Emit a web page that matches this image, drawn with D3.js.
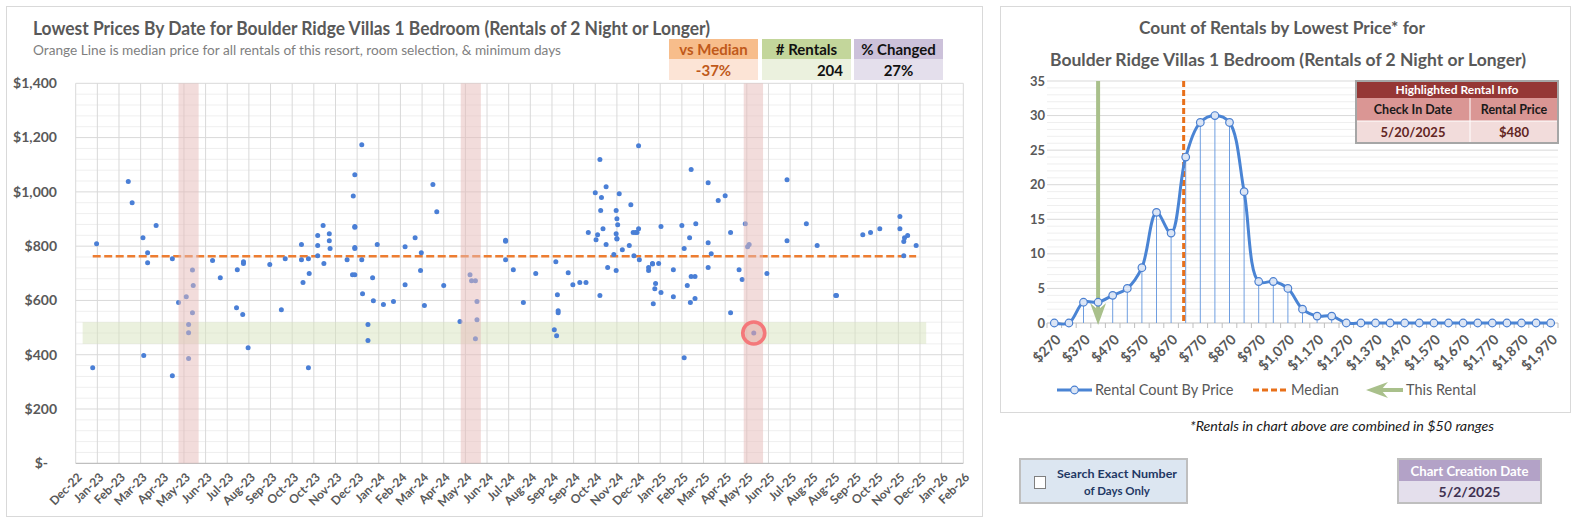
<!DOCTYPE html>
<html>
<head>
<meta charset="utf-8">
<script src="https://cdn.jsdelivr.net/npm/d3@7"></script>
<style>
  body { margin: 0; background: #fff; }
  svg text { font-family: Lato, "Open Sans", sans-serif; }
</style>
</head>
<body>
<svg id="chart"></svg>
<script>
// ---- left chart data ----
var rentalDates = [
  "2023-01-16","2023-01-21","2023-03-03","2023-03-08","2023-03-22","2023-03-28","2023-03-28","2023-03-23",
  "2023-04-08","2023-04-29","2023-04-29","2023-05-07","2023-05-17","2023-05-25","2023-05-26","2023-05-25",
  "2023-05-20","2023-05-20","2023-05-20","2023-06-20","2023-06-30","2023-07-21","2023-07-22","2023-07-29",
  "2023-07-30","2023-07-30","2023-08-05","2023-09-02","2023-09-17","2023-09-22","2023-10-13","2023-10-13",
  "2023-10-15","2023-10-22","2023-10-22","2023-10-23","2023-11-03","2023-11-03","2023-11-03","2023-11-10",
  "2023-11-11","2023-11-18","2023-11-18","2023-11-19","2023-12-11","2023-12-18","2023-12-21","2023-12-19",
  "2023-12-21","2023-12-21","2023-12-21","2023-12-21","2023-12-21","2023-12-30","2023-12-30","2023-12-31",
  "2024-01-07","2024-01-07",
  "2024-01-13","2024-01-14","2024-01-19","2024-01-27","2024-02-09","2024-02-24","2024-02-24","2024-03-08",
  "2024-03-16","2024-03-15","2024-03-20","2024-03-31","2024-04-05","2024-04-14","2024-05-05","2024-05-18",
  "2024-05-20","2024-05-25","2024-05-27","2024-05-27","2024-05-25","2024-07-03","2024-07-03","2024-07-03",
  "2024-07-13","2024-07-26","2024-08-11","2024-09-04","2024-09-07","2024-09-06","2024-09-08","2024-09-09",
  "2024-09-09","2024-09-22","2024-09-28","2024-10-07","2024-10-15","2024-10-18","2024-10-27","2024-10-28",
  "2024-10-30","2024-11-02","2024-11-02","2024-11-03","2024-11-04","2024-11-06","2024-11-10","2024-11-10",
  "2024-11-12","2024-11-20","2024-11-23","2024-11-24","2024-11-25","2024-11-23","2024-11-24","2024-11-24",
  "2024-11-23","2024-11-27","2024-12-01","2024-12-10","2024-12-12","2024-12-15","2024-12-18","2024-12-20",
  "2024-12-16","2024-12-22","2024-12-22","2024-12-23","2025-01-04","2025-01-04","2025-01-09","2025-01-09",
  "2025-01-17","2025-01-13","2025-01-12","2025-01-10","2025-01-20","2025-01-20",
  "2025-02-05","2025-02-05","2025-02-16","2025-02-19","2025-02-19","2025-02-23","2025-02-26","2025-02-28",
  "2025-02-28","2025-03-05","2025-02-27","2025-03-05","2025-03-06","2025-03-22","2025-03-22","2025-03-22",
  "2025-03-26","2025-04-04","2025-04-13","2025-04-20","2025-04-20","2025-05-01","2025-05-05","2025-05-09",
  "2025-05-12","2025-05-14","2025-05-20","2025-06-06","2025-07-02","2025-07-02","2025-07-27","2025-08-10",
  "2025-09-03","2025-09-04","2025-10-08","2025-10-18","2025-10-30","2025-11-25","2025-11-25","2025-11-30",
  "2025-12-01","2025-12-05","2025-11-30","2025-12-16"
];
var rentalPrices = [
  352,809,1038,960,831,776,739,397,
  876,754,323,592,614,712,655,555,
  511,481,386,747,684,573,713,548,
  743,736,426,732,566,754,806,750,
  666,754,352,699,839,802,765,876,
  736,846,820,791,750,695,695,985,
  1063,872,870,795,791,1174,750,625,
  511,452,
  684,599,806,585,596,798,658,831,
  776,710,581,1027,927,655,522,695,
  673,673,596,529,459,822,818,750,
  713,592,699,492,470,743,621,562,
  555,702,658,666,666,850,997,824,
  842,1119,618,931,979,864,1019,806,
  721,769,931,901,879,846,828,826,
  710,993,787,802,953,850,850,850,
  765,864,1170,750,721,710,736,734,
  736,662,643,588,629,872,
  713,614,876,791,389,655,831,1082,
  688,688,592,607,883,1034,813,721,
  772,968,986,850,555,713,677,883,
  798,806,480,699,1045,820,883,802,
  618,618,842,850,864,909,864,817,
  831,839,765,802
];
var medianPrice = 763;
var axisStart = "2022-12-25", axisEnd = "2026-02-15", tickStepDays = 28;
var tickLabels = ["Dec-22","Jan-23","Feb-23","Mar-23","Apr-23","May-23","Jun-23","Jul-23","Aug-23","Sep-23",
  "Oct-23","Oct-23","Nov-23","Dec-23","Jan-24","Feb-24","Mar-24","Apr-24","May-24","Jun-24","Jul-24",
  "Aug-24","Sep-24","Sep-24","Oct-24","Nov-24","Dec-24","Jan-25","Feb-25","Mar-25","Apr-25","May-25",
  "Jun-25","Jul-25","Aug-25","Aug-25","Sep-25","Oct-25","Nov-25","Dec-25","Jan-26","Feb-26"];
var priceTicks = [0, 200, 400, 600, 800, 1000, 1200, 1400];
var seasonStarts = ["2023-05-07", "2024-05-06", "2025-05-07"];
var seasonEnds = ["2023-06-02", "2024-06-01", "2025-06-01"];
var bandFrom = "2023-01-03", bandTo = "2025-12-29", bandLow = 440, bandHigh = 520;
var highlightDate = "2025-05-20", highlightPrice = 480;
var statHeaders = ["vs Median", "# Rentals", "% Changed"];
var statValues = ["-37%", "204", "27%"];

// ---- right chart data ----
var priceBins = [270,320,370,420,470,520,570,620,670,720,770,820,870,920,970,1020,1070,1120,1170,
  1220,1270,1320,1370,1420,1470,1520,1570,1620,1670,1720,1770,1820,1870,1920,1970];
var binCounts = [0,0,3,3,4,5,8,16,13,24,29,30,29,19,6,6,5,2,1,1,0,0,0,0,0,0,0,0,0,0,0,0,0,0,0];
var binLabels = ["$270","$370","$470","$570","$670","$770","$870","$970","$1,070","$1,170","$1,270",
  "$1,370","$1,470","$1,570","$1,670","$1,770","$1,870","$1,970"];
var countTicks = [0, 5, 10, 15, 20, 25, 30, 35];
var histMedian = 713, histRental = 420;
var tableTitle = "Highlighted Rental Info";
var tableCols = ["Check In Date", "Rental Price"];
var tableVals = ["5/20/2025", "$480"];
var creationDate = "5/2/2025";

var parseDate = d3.timeParse("%Y-%m-%d");
var svg = d3.select("#chart").attr("width", 1579).attr("height", 524);
svg.append("rect").attr("width", 1579).attr("height", 524).attr("fill", "#fff");

// ================= LEFT CHART =================
svg.append("rect").attr("x", 6.5).attr("y", 6.5).attr("width", 976).attr("height", 510)
  .attr("fill", "none").attr("stroke", "#d9d9d9");

var x = d3.scaleTime().domain([parseDate(axisStart), parseDate(axisEnd)]).range([75.7, 963.3]);
var y = d3.scaleLinear().domain([0, 1400]).range([463.3, 83.3]);
var tickDates = tickLabels.map(function(d, i) { return d3.timeDay.offset(parseDate(axisStart), i * tickStepDays); });

var gL = svg.append("g");
// minor horizontal grid
gL.selectAll(".minor").data(d3.range(0, 1401, 40).filter(function(v) { return v % 200 != 0; }))
  .join("line").attr("x1", x.range()[0]).attr("x2", x.range()[1])
  .attr("y1", function(d) { return y(d); }).attr("y2", function(d) { return y(d); })
  .attr("stroke", "#efefef");
gL.selectAll(".major").data(priceTicks.slice(1))
  .join("line").attr("x1", x.range()[0]).attr("x2", x.range()[1])
  .attr("y1", function(d) { return y(d); }).attr("y2", function(d) { return y(d); })
  .attr("stroke", "#d9d9d9");
gL.selectAll(".vgrid").data(tickDates)
  .join("line").attr("x1", function(d) { return x(d); }).attr("x2", function(d) { return x(d); })
  .attr("y1", y(1400)).attr("y2", y(0)).attr("stroke", "#d9d9d9");
gL.append("line").attr("x1", x.range()[0]).attr("x2", x.range()[1]).attr("y1", y(0)).attr("y2", y(0))
  .attr("stroke", "#bfbfbf").attr("stroke-width", 1.2);

// green price band
gL.append("rect").attr("x", x(parseDate(bandFrom))).attr("y", y(bandHigh))
  .attr("width", x(parseDate(bandTo)) - x(parseDate(bandFrom))).attr("height", y(bandLow) - y(bandHigh))
  .attr("fill", "#d7e4bd").attr("opacity", 0.5);

// median line
var dates = rentalDates.map(parseDate);
gL.append("line").attr("x1", x(d3.min(dates))).attr("x2", x(d3.max(dates)))
  .attr("y1", y(medianPrice)).attr("y2", y(medianPrice))
  .attr("stroke", "#ed7d31").attr("stroke-width", 2.6).attr("stroke-dasharray", "8,3.5");

// points
gL.selectAll(".pt").data(rentalPrices).join("circle")
  .attr("cx", function(d, i) { return x(dates[i]); }).attr("cy", function(d) { return y(d); })
  .attr("r", 2.5).attr("fill", "#4a7fd6");

// season bands
gL.selectAll(".season").data(seasonStarts).join("rect")
  .attr("x", function(d) { return x(parseDate(d)); }).attr("y", y(1400))
  .attr("width", function(d, i) { return x(parseDate(seasonEnds[i])) - x(parseDate(d)); })
  .attr("height", y(0) - y(1400)).attr("fill", "#e6b9b8").attr("opacity", 0.5);

// highlighted rental
gL.append("circle").attr("cx", x(parseDate(highlightDate))).attr("cy", y(highlightPrice)).attr("r", 11)
  .attr("fill", "#f08080").attr("fill-opacity", 0.18).attr("stroke", "#f4787a").attr("stroke-width", 3.6);

// y labels
gL.selectAll(".ylab").data(priceTicks).join("text")
  .attr("x", function(d) { return d == 0 ? 48 : 57; }).attr("y", function(d) { return y(d); }).attr("dy", "0.35em")
  .attr("text-anchor", "end").attr("font-size", 14).attr("font-weight", "bold").attr("fill", "#595959")
  .text(function(d) { return d == 0 ? "$-" : "$" + d3.format(",")(d); });

// x labels
gL.selectAll(".xlab").data(tickLabels).join("text")
  .attr("transform", function(d, i) { return "translate(" + (x(tickDates[i]) + 4) + ",475) rotate(-45)"; })
  .attr("text-anchor", "end").attr("dy", "0.35em")
  .attr("font-size", 12).attr("font-weight", "bold").attr("fill", "#595959")
  .text(function(d) { return d; });

// titles
svg.append("text").attr("x", 33).attr("y", 35).attr("font-size", 18).attr("font-weight", "bold")
  .attr("fill", "#595959").attr("textLength", 677).attr("lengthAdjust", "spacingAndGlyphs")
  .text("Lowest Prices By Date for Boulder Ridge Villas 1 Bedroom (Rentals of 2 Night or Longer)");
svg.append("text").attr("x", 33).attr("y", 55).attr("font-size", 13.5)
  .attr("fill", "#7f7f7f").attr("textLength", 528).attr("lengthAdjust", "spacingAndGlyphs")
  .text("Orange Line is median price for all rentals of this resort, room selection, & minimum days");

// stat boxes
var statX = [669, 762, 854], statW = 89;
var statHeadFill = ["#f7bd8b", "#c3d69b", "#ccc1da"];
var statValFill = ["#fce4d6", "#ebf1de", "#e4dfec"];
var statColor = ["#c0591a", "#111", "#111"];
var stats = svg.append("g").selectAll("g").data(statHeaders).join("g");
stats.append("rect").attr("x", function(d, i) { return statX[i]; }).attr("y", 39).attr("width", statW).attr("height", 20)
  .attr("fill", function(d, i) { return statHeadFill[i]; });
stats.append("rect").attr("x", function(d, i) { return statX[i]; }).attr("y", 59).attr("width", statW).attr("height", 21)
  .attr("fill", function(d, i) { return statValFill[i]; });
stats.append("text").attr("x", function(d, i) { return statX[i] + statW / 2; }).attr("y", 55)
  .attr("text-anchor", "middle").attr("font-size", 15).attr("font-weight", "bold")
  .attr("fill", function(d, i) { return statColor[i]; }).text(function(d) { return d; });
stats.append("text")
  .attr("x", function(d, i) { return i == 1 ? statX[i] + statW - 8 : statX[i] + statW / 2; }).attr("y", 76)
  .attr("text-anchor", function(d, i) { return i == 1 ? "end" : "middle"; })
  .attr("font-size", 15).attr("font-weight", "bold")
  .attr("fill", function(d, i) { return statColor[i]; }).text(function(d, i) { return statValues[i]; });

// ================= RIGHT CHART =================
svg.append("rect").attr("x", 1000.5).attr("y", 6.5).attr("width", 570).attr("height", 406)
  .attr("fill", "none").attr("stroke", "#d9d9d9");

var xr = d3.scaleLinear().domain([270, 1970]).range([1054.3, 1550.7]);
var yr = d3.scaleLinear().domain([0, 35]).range([323, 81]);
var half = (xr(320) - xr(270)) / 2;
var gR = svg.append("g");

gR.selectAll(".rminor").data(d3.range(0, 36).filter(function(v) { return v % 5 != 0; }))
  .join("line").attr("x1", xr(270) - half).attr("x2", xr(1970) + half)
  .attr("y1", function(d) { return yr(d); }).attr("y2", function(d) { return yr(d); })
  .attr("stroke", "#efefef");
gR.selectAll(".rmajor").data(countTicks.slice(1))
  .join("line").attr("x1", xr(270) - half).attr("x2", xr(1970) + half)
  .attr("y1", function(d) { return yr(d); }).attr("y2", function(d) { return yr(d); })
  .attr("stroke", "#d9d9d9");
gR.append("line").attr("x1", xr(270) - half).attr("x2", xr(1970) + half).attr("y1", yr(0)).attr("y2", yr(0))
  .attr("stroke", "#bfbfbf");
gR.selectAll(".rtick").data(priceBins.concat([1970 + 50])).join("line")
  .attr("x1", function(d) { return xr(d) - half; }).attr("x2", function(d) { return xr(d) - half; })
  .attr("y1", yr(0)).attr("y2", yr(0) + 5).attr("stroke", "#bfbfbf");

// drop lines
gR.selectAll(".drop").data(binCounts).join("line")
  .attr("x1", function(d, i) { return xr(priceBins[i]); }).attr("x2", function(d, i) { return xr(priceBins[i]); })
  .attr("y1", function(d) { return yr(d); }).attr("y2", yr(0))
  .attr("stroke", "#6f9ee0").attr("stroke-width", 1);

// median marker
gR.append("line").attr("x1", xr(histMedian)).attr("x2", xr(histMedian)).attr("y1", yr(35)).attr("y2", yr(0))
  .attr("stroke", "#e8701a").attr("stroke-width", 3).attr("stroke-dasharray", "6,3");

// this rental arrow
var green = "#a9c08b";
gR.append("line").attr("x1", xr(histRental)).attr("x2", xr(histRental)).attr("y1", yr(35)).attr("y2", yr(0) - 10)
  .attr("stroke", green).attr("stroke-width", 4);
gR.append("path").attr("d", "M0,0 L-8,-22 L0,-15 L8,-22 Z")
  .attr("transform", "translate(" + xr(histRental) + "," + (yr(0) + 2) + ")").attr("fill", green);

// count line
var line = d3.line().x(function(d, i) { return xr(priceBins[i]); }).y(function(d) { return yr(d); })
  .curve(d3.curveCatmullRom);
gR.append("path").datum(binCounts).attr("d", line).attr("fill", "none")
  .attr("stroke", "#4a84d4").attr("stroke-width", 3);
gR.selectAll(".mk").data(binCounts).join("circle")
  .attr("cx", function(d, i) { return xr(priceBins[i]); }).attr("cy", function(d) { return yr(d); })
  .attr("r", 3.8).attr("fill", "#dbe5f5").attr("stroke", "#4a7fd0").attr("stroke-width", 1.2);

// axes labels
gR.selectAll(".rylab").data(countTicks).join("text")
  .attr("x", 1045).attr("y", function(d) { return yr(d); }).attr("dy", "0.35em")
  .attr("text-anchor", "end").attr("font-size", 13).attr("font-weight", "bold").attr("fill", "#595959")
  .text(function(d) { return d; });
gR.selectAll(".rxlab").data(binLabels).join("text")
  .attr("transform", function(d, i) { return "translate(" + (xr(priceBins[i * 2]) + 4) + ",337) rotate(-45)"; })
  .attr("text-anchor", "end").attr("dy", "0.35em")
  .attr("font-size", 14).attr("font-weight", "bold").attr("fill", "#595959")
  .text(function(d) { return d; });

// titles
svg.append("text").attr("x", 1282).attr("y", 34).attr("text-anchor", "middle").attr("font-size", 16.5)
  .attr("font-weight", "bold").attr("fill", "#595959").attr("textLength", 286).attr("lengthAdjust", "spacingAndGlyphs")
  .text("Count of Rentals by Lowest Price* for");
svg.append("text").attr("x", 1288).attr("y", 66).attr("text-anchor", "middle").attr("font-size", 16.5)
  .attr("font-weight", "bold").attr("fill", "#595959").attr("textLength", 476).attr("lengthAdjust", "spacingAndGlyphs")
  .text("Boulder Ridge Villas 1 Bedroom (Rentals of 2 Night or Longer)");

// legend
var lg = svg.append("g").attr("font-size", 14.5).attr("fill", "#595959");
lg.append("line").attr("x1", 1057).attr("x2", 1092).attr("y1", 390).attr("y2", 390)
  .attr("stroke", "#4a84d4").attr("stroke-width", 3);
lg.append("circle").attr("cx", 1074.5).attr("cy", 390).attr("r", 3.8)
  .attr("fill", "#dbe5f5").attr("stroke", "#4a7fd0").attr("stroke-width", 1.2);
lg.append("text").attr("x", 1095).attr("y", 395).text("Rental Count By Price");
lg.append("line").attr("x1", 1253).attr("x2", 1286).attr("y1", 390).attr("y2", 390)
  .attr("stroke", "#e8701a").attr("stroke-width", 3).attr("stroke-dasharray", "6,3");
lg.append("text").attr("x", 1291).attr("y", 395).text("Median");
lg.append("line").attr("x1", 1377).attr("x2", 1403).attr("y1", 390).attr("y2", 390)
  .attr("stroke", green).attr("stroke-width", 4);
lg.append("path").attr("d", "M0,0 L22,-8 L15,0 L22,8 Z").attr("transform", "translate(1366,390)").attr("fill", green);
lg.append("text").attr("x", 1406).attr("y", 395).text("This Rental");

// highlighted rental table
var tx = 1356, tw = 202, split = 1470;
var tb = svg.append("g");
tb.append("rect").attr("x", tx).attr("y", 81).attr("width", tw).attr("height", 62).attr("fill", "#f2dcdb");
tb.append("rect").attr("x", tx).attr("y", 81).attr("width", tw).attr("height", 17).attr("fill", "#953735");
tb.append("rect").attr("x", tx).attr("y", 98).attr("width", tw).attr("height", 23).attr("fill", "#da9694");
tb.append("line").attr("x1", split).attr("x2", split).attr("y1", 98).attr("y2", 143).attr("stroke", "#fff").attr("stroke-width", 1);
tb.append("line").attr("x1", tx).attr("x2", tx + tw).attr("y1", 121).attr("y2", 121).attr("stroke", "#fff").attr("stroke-width", 1);
tb.append("rect").attr("x", tx).attr("y", 81).attr("width", tw).attr("height", 62)
  .attr("fill", "none").attr("stroke", "#a6a6a6").attr("stroke-width", 2);
tb.append("text").attr("x", tx + tw / 2).attr("y", 94).attr("text-anchor", "middle").attr("font-size", 12)
  .attr("font-weight", "bold").attr("fill", "#fff").text(tableTitle);
var colMid = [(tx + split) / 2, (split + tx + tw) / 2];
tb.selectAll(".th").data(tableCols).join("text").attr("x", function(d, i) { return colMid[i]; }).attr("y", 114)
  .attr("text-anchor", "middle").attr("font-size", 12.5).attr("font-weight", "bold").attr("fill", "#1a1a1a")
  .text(function(d) { return d; });
tb.selectAll(".tv").data(tableVals).join("text").attr("x", function(d, i) { return colMid[i]; }).attr("y", 137)
  .attr("text-anchor", "middle").attr("font-size", 13).attr("font-weight", "bold").attr("fill", "#632523")
  .text(function(d) { return d; });

// footnote
svg.append("text").attr("x", 1342).attr("y", 431).attr("text-anchor", "middle").attr("font-size", 12.5)
  .attr("font-style", "italic").attr("fill", "#1a1a1a").attr("textLength", 304).attr("lengthAdjust", "spacingAndGlyphs")
  .text("*Rentals in chart above are combined in $50 ranges");

// checkbox panel
var cb = svg.append("g");
cb.append("rect").attr("x", 1020).attr("y", 459).attr("width", 167).attr("height", 44)
  .attr("fill", "#dce6f1").attr("stroke", "#bfbfbf").attr("stroke-width", 2);
cb.append("rect").attr("x", 1034.5).attr("y", 476.5).attr("width", 11).attr("height", 12)
  .attr("fill", "#fff").attr("stroke", "#7f7f7f");
cb.append("text").attr("x", 1117).attr("y", 478).attr("text-anchor", "middle").attr("font-size", 11.5)
  .attr("font-weight", "bold").attr("fill", "#1f3864").attr("textLength", 120).attr("lengthAdjust", "spacingAndGlyphs")
  .text("Search Exact Number");
cb.append("text").attr("x", 1117).attr("y", 495).attr("text-anchor", "middle").attr("font-size", 11.5)
  .attr("font-weight", "bold").attr("fill", "#1f3864").text("of Days Only");

// chart creation date
var cd = svg.append("g");
cd.append("rect").attr("x", 1398).attr("y", 459).attr("width", 143).attr("height", 22).attr("fill", "#b3a2c7");
cd.append("rect").attr("x", 1398).attr("y", 481).attr("width", 143).attr("height", 22).attr("fill", "#e4dfec");
cd.append("rect").attr("x", 1398).attr("y", 459).attr("width", 143).attr("height", 44)
  .attr("fill", "none").attr("stroke", "#bfbfbf").attr("stroke-width", 2);
cd.append("text").attr("x", 1469.5).attr("y", 476).attr("text-anchor", "middle").attr("font-size", 14)
  .attr("font-weight", "bold").attr("fill", "#fff").attr("textLength", 118).attr("lengthAdjust", "spacingAndGlyphs")
  .text("Chart Creation Date");
cd.append("text").attr("x", 1469.5).attr("y", 497).attr("text-anchor", "middle").attr("font-size", 14)
  .attr("font-weight", "bold").attr("fill", "#3f3151").text(creationDate);
</script>
</body>
</html>
